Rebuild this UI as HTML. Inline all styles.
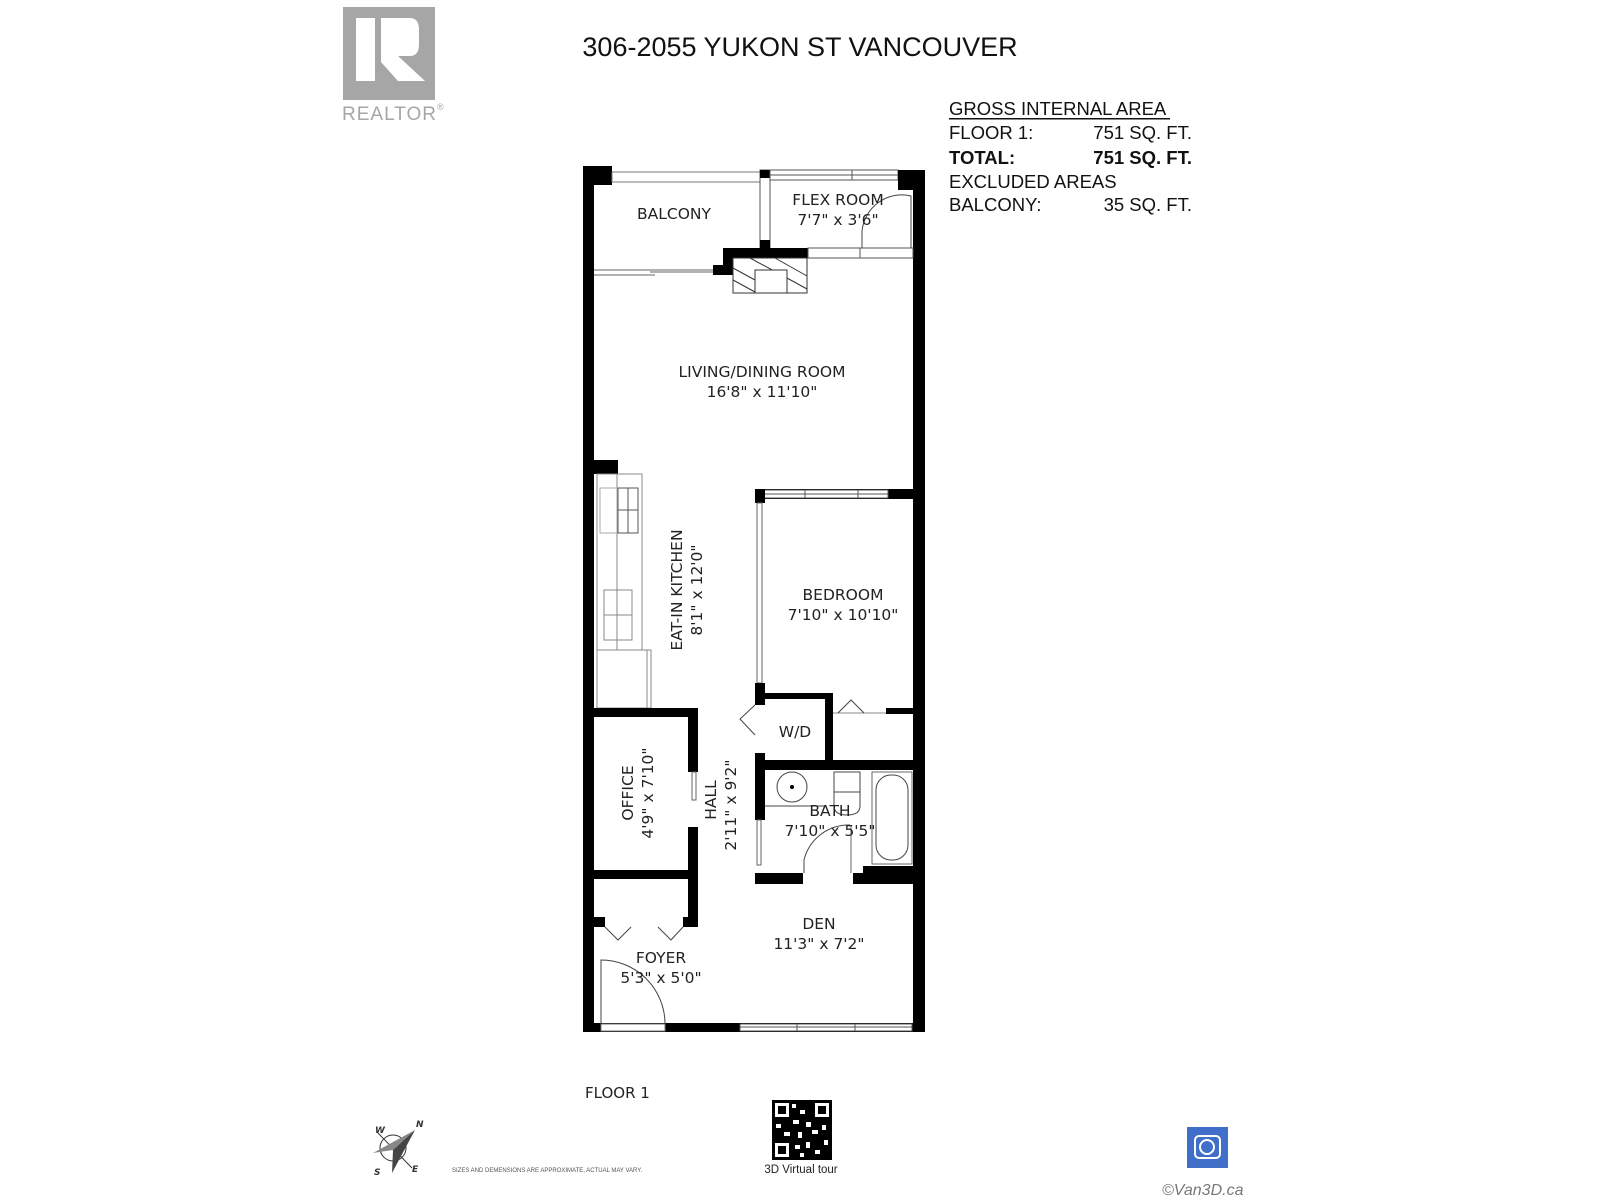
<!DOCTYPE html>
<html><head><meta charset="utf-8"><style>
html,body{margin:0;padding:0;background:#fff;}
svg{display:block;}
text{font-family:"DejaVu Sans","Liberation Sans",sans-serif;}
.a{font-family:"Liberation Sans",sans-serif;}
</style></head><body>
<svg width="1600" height="1200" viewBox="0 0 1600 1200" xmlns="http://www.w3.org/2000/svg">
<rect width="1600" height="1200" fill="#fff"/>
<!-- realtor logo -->
<rect x="343" y="7" width="92" height="93" fill="#a6a6a6"/>
<rect x="356" y="18" width="19" height="63" fill="#fff"/>
<path d="M381 18 H410 Q419 18 419 30 V44 Q419 56 410 56 H398 L425 81 H398 L381 62 Z" fill="#fff"/>
<text x="342" y="120" class="a" font-size="19" fill="#a6a6a6" letter-spacing="1">REALTOR</text>
<text x="437" y="110" class="a" font-size="9" fill="#a6a6a6">®</text>
<!-- title -->
<text x="800" y="56" class="a" font-size="27" text-anchor="middle" fill="#111">306-2055 YUKON ST VANCOUVER</text>
<!-- table -->
<g class="a" font-size="18.5" fill="#111">
<text x="949" y="115" class="a">GROSS INTERNAL AREA</text>
<rect x="949" y="118" width="221" height="1.5" fill="#111"/>
<text x="949" y="139" class="a">FLOOR 1:</text><text x="1192" y="139" class="a" text-anchor="end">751 SQ. FT.</text>
<text x="949" y="164" class="a" font-weight="bold">TOTAL:</text><text x="1192" y="164" class="a" text-anchor="end" font-weight="bold">751 SQ. FT.</text>
<text x="949" y="188" class="a">EXCLUDED AREAS</text>
<text x="949" y="211" class="a">BALCONY:</text><text x="1192" y="211" class="a" text-anchor="end">35 SQ. FT.</text>
</g>

<!-- floor plan -->
<g fill="#000">
<rect x="583" y="166" width="11" height="866"/>
<rect x="583" y="166" width="29" height="19"/>
<rect x="612" y="172" width="148" height="10" fill="none" stroke="#777" stroke-width="1"/>
<rect x="760" y="170" width="10" height="80" fill="none" stroke="#555" stroke-width="1"/>
<rect x="760" y="240" width="10" height="18"/>
<rect x="760" y="170" width="10" height="8"/>
<rect x="770" y="170" width="128" height="10" fill="none" stroke="#555" stroke-width="1"/>
<line x1="770" y1="175" x2="898" y2="175" stroke="#555"/>
<line x1="852" y1="170" x2="852" y2="180" stroke="#555"/>
<rect x="898" y="170" width="27" height="20"/>
<rect x="913" y="170" width="12" height="862"/>
<rect x="723" y="248" width="85" height="10"/>
<rect x="808" y="248" width="105" height="10" fill="none" stroke="#555" stroke-width="1"/>
<line x1="860" y1="248" x2="860" y2="258" stroke="#555"/>
<rect x="723" y="248" width="10" height="22"/>
<rect x="713" y="265" width="20" height="10"/>
<path d="M862 248 V231 A40 40 0 0 1 911 196 V248" fill="none" stroke="#444" stroke-width="1"/>
<path d="M594 270 H713 M594 275 H655 M650 272 H713" stroke="#666" stroke-width="1" fill="none"/>
<rect x="733" y="258" width="74" height="35" fill="none" stroke="#333" stroke-width="1"/>
<g stroke="#333" stroke-width="1">
<line x1="733" y1="268" x2="755" y2="280"/><line x1="733" y1="280" x2="755" y2="292"/>
<line x1="750" y1="258" x2="787" y2="278"/><line x1="775" y1="258" x2="807" y2="276"/>
<line x1="787" y1="278" x2="807" y2="289"/>
</g>
<rect x="755" y="270" width="32" height="23" fill="#fff" stroke="#333" stroke-width="1"/>

<rect x="583" y="460" width="35" height="14"/>
<rect x="597" y="474" width="45" height="176" fill="none" stroke="#888" stroke-width="1"/>
<line x1="617" y1="474" x2="617" y2="650" stroke="#888"/>
<rect x="618" y="488" width="20" height="45" fill="none" stroke="#555"/>
<line x1="618" y1="510" x2="638" y2="510" stroke="#555"/><line x1="628" y1="488" x2="628" y2="533" stroke="#555"/>
<rect x="600" y="488" width="17" height="45" fill="none" stroke="#aaa"/>
<rect x="604" y="590" width="28" height="50" fill="none" stroke="#888"/>
<line x1="604" y1="615" x2="632" y2="615" stroke="#888"/>
<rect x="597" y="650" width="54" height="58" fill="none" stroke="#888"/>
<line x1="647" y1="650" x2="647" y2="708" stroke="#888"/>

<rect x="755" y="489" width="170" height="10"/>
<rect x="763" y="490" width="125" height="8" fill="#fff" stroke="#555"/>
<line x1="763" y1="494" x2="888" y2="494" stroke="#555"/>
<line x1="805" y1="490" x2="805" y2="498" stroke="#555"/><line x1="858" y1="490" x2="858" y2="498" stroke="#555"/>
<rect x="755" y="489" width="10" height="14"/>
<rect x="757" y="503" width="5" height="180" fill="none" stroke="#666"/>
<rect x="755" y="683" width="10" height="22"/>
<rect x="765" y="693" width="65" height="6"/>
<rect x="825" y="693" width="8" height="77"/>
<path d="M755 705 L740 719 L755 735" fill="none" stroke="#444"/>
<rect x="886" y="708" width="34" height="6"/>
<line x1="833" y1="713" x2="886" y2="713" stroke="#888"/>
<path d="M838 713 L851 700 L864 713" fill="none" stroke="#444"/>
<rect x="755" y="753" width="10" height="67"/>
<rect x="755" y="760" width="165" height="10"/>
<rect x="757" y="820" width="4" height="45" fill="none" stroke="#666"/>
<rect x="755" y="873" width="48" height="11"/>
<rect x="853" y="873" width="67" height="11"/>
<rect x="863" y="866" width="57" height="10"/>
<circle cx="792" cy="787" r="15" fill="none" stroke="#444"/><circle cx="792" cy="787" r="2"/>
<line x1="765" y1="806" x2="825" y2="806" stroke="#444"/>
<rect x="834" y="772" width="26" height="20" fill="none" stroke="#444"/>
<path d="M834 792 V806 Q834 815 847 815 Q860 815 860 806 V792" fill="none" stroke="#444"/>
<rect x="872" y="772" width="40" height="92" fill="none" stroke="#666"/>
<rect x="876" y="775" width="32" height="85" rx="15" fill="none" stroke="#444"/>
<path d="M804 873 V860 A46 46 0 0 1 850 825" fill="none" stroke="#444"/>
<line x1="851" y1="825" x2="851" y2="873" stroke="#666"/>
<rect x="583" y="708" width="115" height="9"/>
<rect x="688" y="708" width="10" height="64"/>
<rect x="688" y="827" width="10" height="98"/>
<rect x="692" y="772" width="4" height="28" fill="none" stroke="#666"/>
<rect x="583" y="870" width="115" height="9"/>
<rect x="593" y="917" width="12" height="10"/>
<rect x="683" y="917" width="15" height="10"/>
<path d="M605 927 L618 940 L631 927 M658 927 L671 940 L683 927" fill="none" stroke="#444"/>
<rect x="583" y="1023" width="342" height="9"/>
<rect x="601" y="1024" width="64" height="7" fill="#fff" stroke="#777"/>
<path d="M601 1024 V960 A64 64 0 0 1 665 1024" fill="none" stroke="#444"/>
<rect x="740" y="1024" width="172" height="7" fill="#fff" stroke="#555"/>
<line x1="740" y1="1027" x2="912" y2="1027" stroke="#555"/>
<line x1="797" y1="1024" x2="797" y2="1031" stroke="#555"/><line x1="855" y1="1024" x2="855" y2="1031" stroke="#555"/>
</g>

<g font-size="15.5" fill="#222" text-anchor="middle">
<text x="674" y="219">BALCONY</text>
<text x="838" y="205">FLEX ROOM</text>
<text x="838" y="225">7'7" x 3'6"</text>
<text x="762" y="377">LIVING/DINING ROOM</text>
<text x="762" y="397">16'8" x 11'10"</text>
<text x="843" y="600">BEDROOM</text>
<text x="843" y="620">7'10" x 10'10"</text>
<text x="795" y="737">W/D</text>
<text x="830" y="816">BATH</text>
<text x="830" y="836">7'10" x 5'5"</text>
<text x="819" y="929">DEN</text>
<text x="819" y="949">11'3" x 7'2"</text>
<text x="661" y="963">FOYER</text>
<text x="661" y="983">5'3" x 5'0"</text>
<text transform="translate(682,590) rotate(-90)">EAT-IN KITCHEN</text>
<text transform="translate(702,590) rotate(-90)">8'1" x 12'0"</text>
<text transform="translate(633,793) rotate(-90)">OFFICE</text>
<text transform="translate(653,793) rotate(-90)">4'9" x 7'10"</text>
<text transform="translate(716,800) rotate(-90)">HALL</text>
<text transform="translate(736,805) rotate(-90)">2'11" x 9'2"</text>
</g>

<text x="585" y="1098" font-size="15" fill="#222">FLOOR 1</text>
<!-- compass -->
<g stroke="#333" fill="none">
<circle cx="393" cy="1148" r="13"/>
<line x1="378" y1="1133" x2="412" y2="1168"/>
<path d="M373 1153 L415 1130 L393 1150 Z" fill="#888" stroke="none"/>
<path d="M415 1130 L393 1150 L392 1173 Z" fill="#444" stroke="none"/>
</g>
<text x="375" y="1133" font-size="9" font-style="italic" font-weight="bold" fill="#333">W</text>
<text x="416" y="1127" font-size="9" font-style="italic" font-weight="bold" fill="#333">N</text>
<text x="374" y="1175" font-size="9" font-style="italic" font-weight="bold" fill="#333">S</text>
<text x="412" y="1172" font-size="9" font-style="italic" font-weight="bold" fill="#333">E</text>
<text x="452" y="1172" class="a" font-size="6" fill="#555">SIZES AND DEMENSIONS ARE APPROXIMATE, ACTUAL MAY VARY.</text>
<!-- QR -->
<g fill="#000">
<rect x="772" y="1100" width="60" height="60"/>
<rect x="775" y="1103" width="14" height="14" fill="#fff"/><rect x="778" y="1106" width="8" height="8"/>
<rect x="815" y="1103" width="14" height="14" fill="#fff"/><rect x="818" y="1106" width="8" height="8"/>
<rect x="775" y="1143" width="14" height="14" fill="#fff"/><rect x="778" y="1146" width="8" height="8"/>
<rect x="792" y="1104" width="4" height="4" fill="#fff"/><rect x="800" y="1110" width="5" height="4" fill="#fff"/>
<rect x="793" y="1120" width="6" height="4" fill="#fff"/><rect x="806" y="1122" width="5" height="5" fill="#fff"/>
<rect x="776" y="1124" width="5" height="4" fill="#fff"/><rect x="784" y="1132" width="6" height="4" fill="#fff"/>
<rect x="798" y="1132" width="4" height="6" fill="#fff"/><rect x="812" y="1130" width="6" height="4" fill="#fff"/>
<rect x="822" y="1125" width="4" height="5" fill="#fff"/><rect x="795" y="1145" width="5" height="4" fill="#fff"/>
<rect x="806" y="1142" width="4" height="6" fill="#fff"/><rect x="815" y="1150" width="5" height="4" fill="#fff"/>
<rect x="824" y="1140" width="4" height="5" fill="#fff"/><rect x="800" y="1153" width="4" height="4" fill="#fff"/>
</g>
<text x="801" y="1173" class="a" font-size="11.5" text-anchor="middle" fill="#222">3D Virtual tour</text>
<rect x="1187" y="1127" width="41" height="41" fill="#3f6fc8"/>
<rect x="1195" y="1136" width="25" height="22" rx="4" fill="none" stroke="#fff" stroke-width="2"/>
<circle cx="1207" cy="1147" r="7" fill="none" stroke="#fff" stroke-width="2"/>
<text x="1162" y="1195" class="a" font-size="16" font-style="italic" fill="#777">©Van3D.ca</text>
</svg>
</body></html>
